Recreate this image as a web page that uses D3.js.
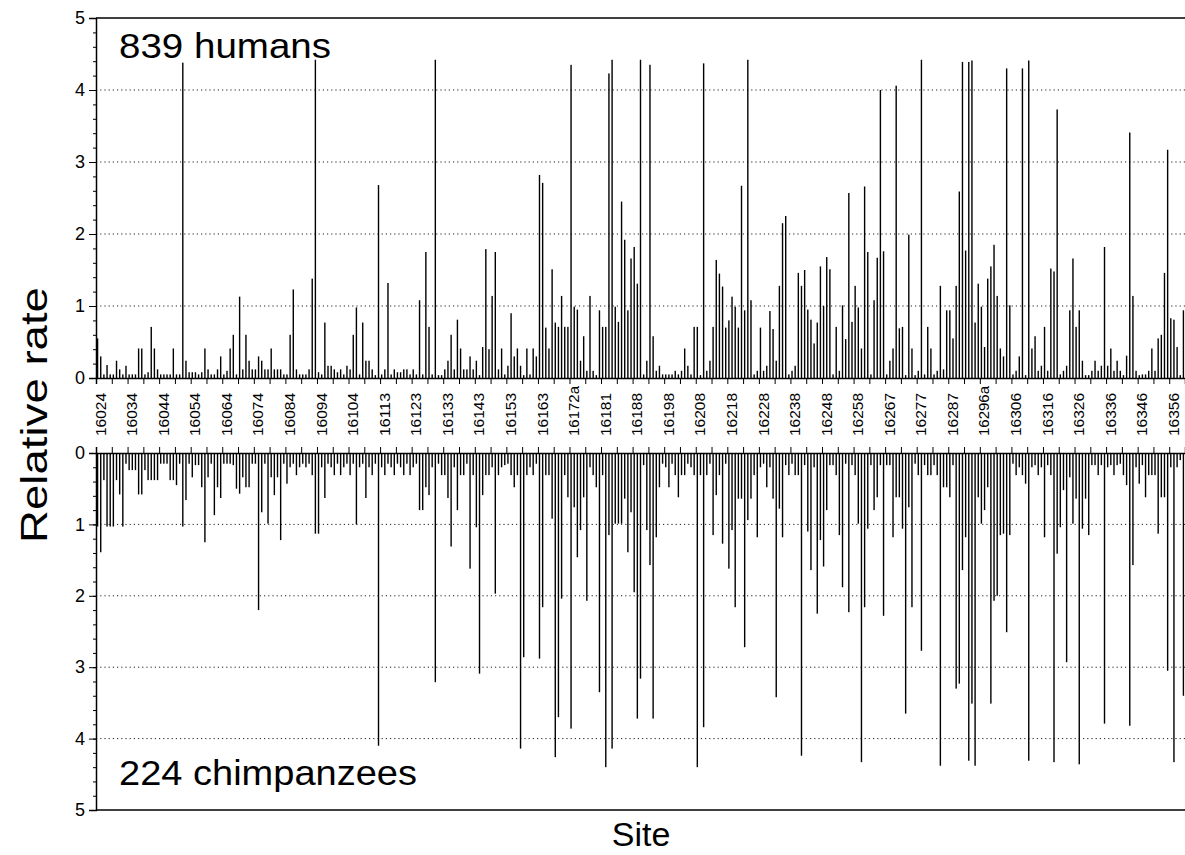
<!DOCTYPE html>
<html>
<head>
<meta charset="utf-8">
<script src="https://cdn.jsdelivr.net/npm/d3@7"></script>
<style>
  body { margin: 0; background: #fff; }
  text { font-family: "Liberation Sans", Arial, sans-serif; fill: #000; }
</style>
</head>
<body>
<svg id="chart" width="1185" height="855"></svg>
<script>
// relative substitution rate per site (one value per site, left to right)
var humans = [
  .55,.30,.05,.18,.05,.05,.24,.12,.05,.17,
  .05,.05,.05,.41,.41,.05,.08,.71,.41,.12,
  .05,.05,.05,.05,.41,.05,.05,4.38,.24,.08,
  .08,.08,.05,.08,.41,.12,.05,.05,.12,.30,
  .05,.10,.41,.60,.05,1.13,.12,.60,.24,.12,
  .12,.30,.24,.12,.12,.41,.12,.12,.12,.05,
  .05,.60,1.23,.12,.05,.05,.05,.12,1.38,4.42,
  .08,.05,.77,.17,.17,.12,.08,.12,.05,.17,
  .12,.60,.98,.05,.77,.24,.24,.12,.04,2.68,
  .05,.12,1.32,.05,.12,.08,.08,.12,.12,.05,
  .12,.05,1.08,.05,1.75,.71,.05,4.42,.04,.04,
  .12,.24,.60,.12,.81,.41,.12,.12,.30,.12,
  .24,.04,.43,1.79,.40,1.14,1.75,.12,.41,.05,
  .17,.90,.30,.41,.17,.04,.41,.05,.41,.30,
  2.82,2.71,.70,.41,1.51,.77,.71,1.14,.71,.71,
  4.35,.99,.95,.24,.58,.10,1.14,.10,.04,.94,
  .71,.71,4.23,4.42,.99,.78,2.45,1.92,.94,1.66,
  1.82,1.31,4.42,.05,.24,4.35,.58,.10,.17,.05,
  .05,.05,.05,.10,.05,.10,.41,.17,.05,.71,
  .71,.04,4.37,.10,.24,.71,1.64,1.45,1.27,.70,
  .80,1.13,.99,.70,2.67,.94,4.42,1.08,.05,.10,
  .70,.10,.17,.93,.68,.24,1.28,2.15,2.25,.05,
  .10,.17,1.46,1.28,1.50,.95,.81,.48,.77,1.55,
  1.00,1.68,1.51,.05,.71,.10,1.01,.54,2.57,.78,
  1.28,.98,.41,2.66,1.75,.05,1.08,1.67,4.00,1.76,
  .05,.24,.41,4.06,.69,.71,.04,1.99,.41,.04,
  .10,4.42,.05,.71,.41,.05,.10,1.28,.12,.94,
  .94,.55,1.28,2.59,4.39,1.77,4.39,4.41,.77,1.31,
  .99,.43,1.38,1.55,1.85,1.14,.41,.30,4.30,1.01,
  .05,.10,.30,4.30,.04,4.41,.41,.58,.10,.17,
  .71,.10,1.52,1.48,3.73,.05,.10,.17,.94,1.66,
  .71,.94,.24,.04,.04,.10,.24,.10,.17,1.82,
  .17,.41,.10,.24,.10,.04,.31,3.41,1.14,.10,
  .04,.05,.05,.10,.41,.10,.55,.60,1.46,3.17,
  .83,.81,.43,.04,.94
];

var chimps = [
  1.03,1.39,.38,1.03,1.03,1.03,.38,.58,1.03,.15,
  .24,.24,.24,.58,.58,.24,.38,.38,.38,.38,
  .15,.15,.15,.38,.38,.45,.15,1.03,.66,.15,
  .34,.17,.17,.48,1.25,.34,.15,.87,.48,.63,
  .15,.15,.15,.17,.50,.57,.34,.48,.48,.15,
  .15,2.20,.83,.15,.99,.34,.59,.34,1.22,.15,
  .43,.20,.15,.31,.20,.15,.20,.15,.31,1.13,
  1.13,.20,.63,.15,.20,.31,.15,.31,.20,.15,
  .31,.15,1.00,.20,.15,.63,.20,.31,.15,4.10,
  .20,.31,.15,.20,.31,.15,.20,.31,.15,.31,
  .20,.15,.80,.80,.48,.59,.20,3.21,.15,.31,
  .31,.63,1.31,.20,.80,.31,.31,.15,1.62,.31,
  1.04,3.09,.59,.31,.31,.20,1.97,.31,.20,.17,
  .15,.31,.48,.31,4.14,2.86,.31,.20,.31,.15,
  2.88,2.16,.31,.31,.92,4.26,3.70,2.04,.31,.62,
  3.86,.76,1.46,1.08,.62,2.07,.20,.31,.48,3.35,
  .31,4.40,1.15,4.14,.99,.99,.99,.64,1.39,.83,
  1.95,3.72,3.16,.17,1.08,1.57,3.72,1.18,.48,.15,
  .20,.48,.15,.31,.62,.31,.31,.15,.20,.31,
  4.40,.31,3.84,.31,.15,1.15,.59,.31,1.27,.15,
  1.62,1.08,2.16,.64,.64,2.72,.94,.64,.31,1.18,
  .20,.15,.48,.20,.64,3.42,.78,1.18,.17,.31,
  .15,.31,.31,4.24,.17,1.10,1.64,.20,2.25,1.22,
  1.59,.80,.17,.17,.31,1.15,1.88,.15,2.23,.17,
  .31,.99,4.33,2.16,1.06,.17,.80,.62,.17,2.28,
  .17,.17,1.18,.62,.62,1.06,3.65,.76,2.16,.15,
  .31,2.77,.17,.31,.31,.17,.31,4.38,.48,.48,
  .62,.17,3.30,3.23,1.64,1.18,4.31,3.51,4.38,.62,
  .99,.80,.48,3.51,2.07,2.00,1.15,1.13,2.51,1.15,
  .15,.31,.20,.31,.43,4.31,.20,.17,.31,.20,
  1.18,.17,.31,4.33,1.41,1.04,.52,2.93,.34,.99,
  .64,4.36,1.06,.64,1.15,.17,.17,.31,.17,3.79,
  .20,.17,.31,.17,.15,.31,.45,3.82,1.57,.20,
  .43,.17,.62,.31,.31,.31,1.13,.62,.62,3.05,
  .20,4.33,.20,.10,3.40
];

// site labels, one every 10th site starting at the 2nd
var siteLabels = ['16024','16034','16044','16054','16064','16074','16084','16094','16104','16113',
  '16123','16133','16143','16153','16163','16172a','16181','16188','16198','16208',
  '16218','16228','16238','16248','16258','16267','16277','16287','16296a','16306',
  '16316','16326','16336','16346','16356'];

var rateTicks = [0, 1, 2, 3, 4, 5];

var svg = d3.select('#chart');
var n = humans.length;
var left = 96, right = 1185;

var x = d3.scaleBand().domain(d3.range(n)).range([left, right]).padding(0);
var xEdge = d3.scaleLinear().domain([0, n]).range([left, right]);

var yTop = d3.scaleLinear().domain([0, 5]).range([378, 18]);
var yBot = d3.scaleLinear().domain([0, 5]).range([453, 810]);

function panel(y, values, down) {
  var g = svg.append('g');

  // dotted grid
  g.selectAll('line.grid')
    .data(rateTicks.slice(1, 5))
    .enter().append('line')
    .attr('x1', left).attr('x2', right)
    .attr('y1', y).attr('y2', y)
    .attr('stroke', '#222')
    .attr('stroke-width', 1)
    .attr('stroke-dasharray', '1.2,3');

  // bars
  g.selectAll('rect')
    .data(values)
    .enter().append('rect')
    .attr('x', function (d, i) { return x(i) + x.bandwidth() / 2 - 0.7; })
    .attr('width', 1.4)
    .attr('y', function (d) { return down ? y(0) : y(d); })
    .attr('height', function (d) { return Math.abs(y(d) - y(0)); })
    .attr('fill', '#000');

  // minor + major ticks on the rate axis
  g.append('g')
    .attr('transform', 'translate(' + left + ',0)')
    .call(d3.axisLeft(y).tickValues(d3.range(0, 5.01, 0.2)).tickSize(3).tickFormat(''))
    .call(function (a) { a.select('.domain').remove(); });

  g.append('g')
    .attr('transform', 'translate(' + left + ',0)')
    .call(d3.axisLeft(y).tickValues(rateTicks).tickSize(7).tickPadding(4).tickFormat(d3.format('d')))
    .call(function (a) {
      a.select('.domain').attr('stroke-width', 1.5);
      a.selectAll('text')
        .attr('font-size', 18)
        .attr('font-family', '"Liberation Sans", Arial, sans-serif');
    });

  // site ticks on the zero line
  var ax = down ? d3.axisTop(xEdge) : d3.axisBottom(xEdge);
  g.append('g')
    .attr('transform', 'translate(0,' + y(0) + ')')
    .call(ax.tickValues(d3.range(0, n + 1, 5)).tickSize(6).tickFormat(''))
    .call(function (a) { a.select('.domain').attr('stroke-width', 1.5); });

  // frame line at rate 5
  g.append('line')
    .attr('x1', left).attr('x2', right)
    .attr('y1', y(5)).attr('y2', y(5))
    .attr('stroke', '#000').attr('stroke-width', 1.5);
}

panel(yTop, humans, false);
panel(yBot, chimps, true);

// site labels between the panels
svg.append('g').selectAll('text')
  .data(siteLabels)
  .enter().append('text')
  .attr('transform', function (d, k) {
    return 'translate(' + (x(1 + 10 * k) + x.bandwidth() / 2) + ',436) rotate(-90)';
  })
  .attr('dy', '0.35em')
  .attr('font-size', 14)
  .attr('textLength', function (d) { return d.length > 5 ? 50 : 43; })
  .attr('lengthAdjust', 'spacingAndGlyphs')
  .text(function (d) { return d; });

// panel captions
svg.append('text')
  .attr('x', 119).attr('y', 58)
  .attr('font-size', 35)
  .attr('textLength', 212).attr('lengthAdjust', 'spacingAndGlyphs')
  .text('839 humans');

svg.append('text')
  .attr('x', 119).attr('y', 785)
  .attr('font-size', 35)
  .attr('textLength', 298).attr('lengthAdjust', 'spacingAndGlyphs')
  .text('224 chimpanzees');

// axis titles
svg.append('text')
  .attr('transform', 'translate(47,415) rotate(-90)')
  .attr('text-anchor', 'middle')
  .attr('font-size', 36)
  .attr('textLength', 256).attr('lengthAdjust', 'spacingAndGlyphs')
  .text('Relative rate');

svg.append('text')
  .attr('x', 641).attr('y', 846)
  .attr('text-anchor', 'middle')
  .attr('font-size', 34)
  .text('Site');
</script>
</body>
</html>
